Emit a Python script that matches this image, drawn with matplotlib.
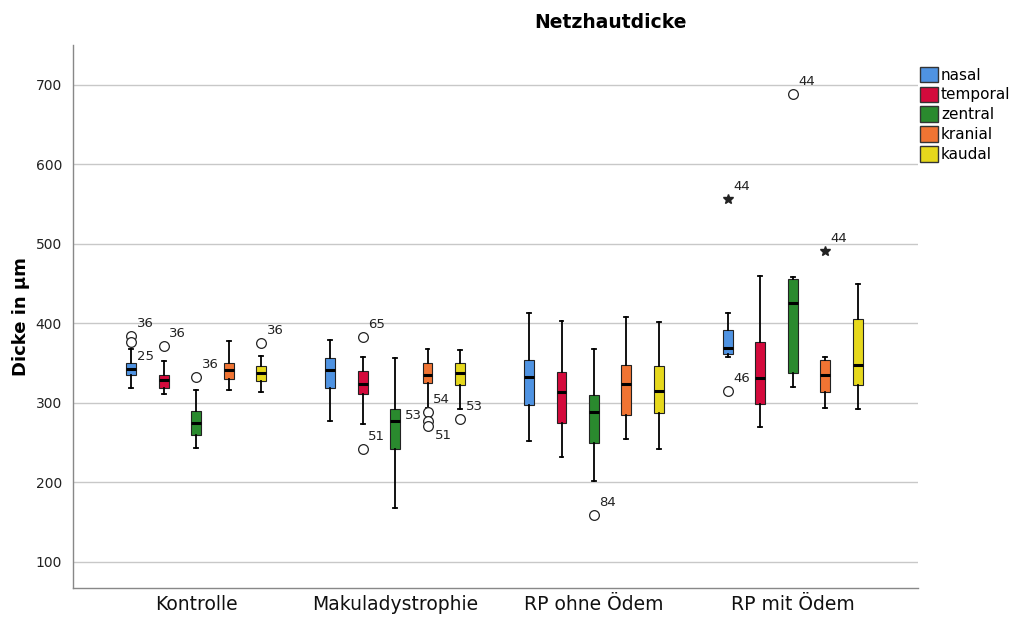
import matplotlib
matplotlib.use("Agg")
import matplotlib.pyplot as plt
from matplotlib.patches import Patch

plt.rcParams['font.family'] = ['DejaVu Sans']

groups = ["Kontrolle", "Makuladystrophie", "RP ohne Ödem", "RP mit Ödem"]
regions = ["nasal", "temporal", "zentral", "kranial", "kaudal"]
colors = ["#4f93e2", "#d40a3c", "#2a8a2e", "#f07433", "#e6d81c"]

# rows: regions, columns: groups
whislo = [[318, 277, 252, 358],
          [311, 273, 232, 269],
          [243, 168, 201, 320],
          [316, 293, 254, 294],
          [314, 292, 242, 292]]
q1 = [[335, 318, 297, 361.5],
      [319, 311, 275, 299],
      [260, 242, 250, 337],
      [330, 325, 285, 313],
      [327, 322, 287, 322.5]]
med = [[343, 341, 332, 369.5],
       [329, 324, 313, 331],
       [275, 277, 289, 425],
       [341, 335, 324, 335],
       [337, 338, 315, 348]]
q3 = [[350, 356, 354, 391],
      [335, 340, 339, 377],
      [290, 292, 310, 456],
      [350, 350, 348, 354],
      [346, 350, 346, 405]]
whishi = [[368, 379, 413, 413],
          [352, 358, 403, 460],
          [316, 356, 367, 458],
          [378, 367, 408, 357],
          [359, 366, 401, 450]]

# outliers: group index, region index, value, case label, marker
out_group = [0, 0, 0, 0, 0, 1, 1, 1, 1, 1, 1, 2, 3, 3, 3, 3]
out_region = [0, 0, 1, 2, 4, 1, 1, 3, 3, 3, 4, 2, 0, 0, 2, 3]
out_value = [384, 376, 372, 332.5, 375, 383, 242, 289, 277, 271, 280, 158.5, 556, 315, 688, 491.5]
out_label = ["36", "25", "36", "36", "36", "65", "51", "54", "53", "51", "53", "84", "44", "46", "44", "44"]
out_marker = ["o", "o", "o", "o", "o", "o", "o", "o", "o", "o", "o", "o", "*", "o", "o", "*"]

fig = plt.figure(figsize=(10.14, 6.17), dpi=100)
ax = fig.add_axes([73 / 1014, 1 - 588 / 617, (918 - 73) / 1014, (588 - 45) / 617])

spacing = 0.163
offsets = [(i - 2) * spacing for i in range(len(regions))]

for r, reg in enumerate(regions):
    stats = []
    pos = []
    for g in range(len(groups)):
        stats.append(dict(whislo=whislo[r][g], q1=q1[r][g], med=med[r][g],
                          q3=q3[r][g], whishi=whishi[r][g], fliers=[]))
        pos.append(g + offsets[r])
    ax.bxp(stats, positions=pos, widths=0.05, patch_artist=True,
           showfliers=False, manage_ticks=False,
           boxprops=dict(facecolor=colors[r], edgecolor="#222222", linewidth=0.8),
           medianprops=dict(color="black", linewidth=2.2, solid_capstyle="butt"),
           whiskerprops=dict(color="black", linewidth=1.3),
           capprops=dict(color="black", linewidth=1.3),
           capwidths=0.02, zorder=3)

# label offsets in points (dx, dy, ha)
label_off = {1: (4, -10, "left"), 8: (-4, 4, "right"), 9: (5, -7, "left")}
for i in range(len(out_value)):
    x = out_group[i] + offsets[out_region[i]]
    y = out_value[i]
    if out_marker[i] == "o":
        ax.plot(x, y, marker="o", markersize=7, markerfacecolor="white",
                markeredgecolor="#222222", markeredgewidth=0.9, zorder=4)
    else:
        ax.plot(x, y, marker="*", markersize=7, color="#222222", zorder=4)
    dx, dy, ha = label_off.get(i, (4, 9, "left"))
    ax.annotate(out_label[i], (x, y), xytext=(dx, dy), textcoords="offset points",
                ha=ha, va="center", fontsize=9.5, color="#222222")

ax.set_xlim(-0.62, 3.63)
ax.set_ylim(67, 750)
ax.set_yticks([100, 200, 300, 400, 500, 600, 700])
ax.set_xticks(range(len(groups)))
ax.set_xticklabels(groups, fontsize=13.5, color="#111111")
ax.tick_params(axis="y", labelsize=10, length=0, pad=8, labelcolor="#222222")
ax.tick_params(axis="x", length=0, pad=5)
ax.yaxis.grid(True, color="#c8c8c8", linewidth=1.0, zorder=0)
ax.set_axisbelow(True)
for s in ["top", "right"]:
    ax.spines[s].set_visible(False)
for s in ["left", "bottom"]:
    ax.spines[s].set_color("#888888")
    ax.spines[s].set_linewidth(1.0)

ax.set_ylabel("Dicke in µm", fontsize=13, fontweight="bold", labelpad=4)
fig.text(610 / 1014, 1 - 22 / 617, "Netzhautdicke", ha="center", va="center",
         fontsize=13.5, fontweight="bold")

handles = [Patch(facecolor=c, edgecolor="#333333", linewidth=1.0) for c in colors]
fig.legend(handles, regions, loc="upper left", bbox_to_anchor=(909 / 1014, 1 - 56 / 617),
           frameon=False, fontsize=11, handlelength=1.2, handleheight=1.2,
           handletextpad=0.2, labelspacing=0.25, borderpad=0.2)

fig.savefig("out.png", dpi=100)
